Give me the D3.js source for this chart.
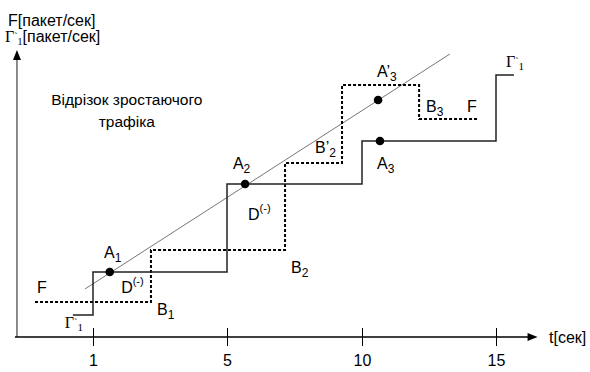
<!DOCTYPE html>
<html><head><meta charset="utf-8">
<script src="https://cdn.jsdelivr.net/npm/d3@7/dist/d3.min.js"></script>
<style>body{margin:0;background:#fff}svg{display:block}text{font-family:Arial,"Liberation Sans",sans-serif}</style>
</head><body><svg id="c" width="590" height="372"></svg>
<script>
// ---- data (time t [сек], rate v [пакет/сек], schematic units) ----
const tickTimes = [1, 5, 10, 15];
const tickLabels = ["1", "5", "10", "15"];
// Γ`1 : solid step curve (start of each level)
const gammaT = [0.4, 1, 5, 10, 15, 15.67];
const gammaV = [2.2, 6.5, 15.3, 19.6, 26.2];
// F : dashed step curve
const fT = [-0.73, 2.73, 7.15, 9.26, 12.13, 14.3];
const fV = [3.5, 8.7, 17.4, 25.2, 21.8];
// growing-traffic segment
const trendT = [0.76, 13.28];
const trendV = [4.8, 28.3];
// marked points
const pointNames = ["A1", "A2", "A3", "A'3"];
const pointT = [1.5, 5.67, 10.67, 10.6];
const pointV = [6.5, 15.3, 19.6, 23.7];
// annotations: main, sub/sup, kind, anchor t, anchor v
const labelMain = ["F", "A", "D", "B", "A", "D", "B", "B’", "A", "A’", "B", "F"];
const labelExtra = ["", "1", "(-)", "1", "2", "(-)", "2", "2", "3", "3", "3", ""];
const labelKind = ["", "sub", "sup", "sub", "sub", "sup", "sub", "sub", "sub", "sub", "sub", ""];
const labelT = [-0.67, 1.33, 1.84, 2.91, 5.22, 5.78, 7.37, 8.26, 10.56, 10.56, 12.39, 13.92];
const labelV = [4.4, 7.9, 4.4, 2.2, 16.8, 11.7, 6.4, 18.4, 16.8, 26.0, 22.5, 22.5];
const gammaLabelT = [0.16, 15.37];
const gammaLabelV = [0.9, 27.0];
const noteLines = ["Відрізок зростаючого", "трафіка"];
const noteT = 2.01;
const noteV = [23.2, 21.0];

// ---- scales ----
const x = d3.scaleLinear().domain([1, 5, 10, 15]).range([93, 227, 362, 496]);
const y = d3.scaleLinear().domain([0, 30]).range([337, 37]);
const tOrigin = -1.27, tAxisStart = -1.33, tAxisEnd = 16.55, vTop = 28.7;

const svg = d3.select("#c");

// ---- axes ----
svg.append("line").attr("x1", x(tOrigin)).attr("x2", x(tOrigin))
  .attr("y1", y(0)).attr("y2", y(vTop) + 8)
  .attr("stroke", "#666").attr("stroke-width", 1.5);
svg.append("path")
  .attr("d", `M${x(tOrigin)},${y(vTop)} L${x(tOrigin) - 4},${y(vTop) + 10} L${x(tOrigin) + 4},${y(vTop) + 10} Z`)
  .attr("fill", "#000");
svg.append("line").attr("x1", x(tAxisStart)).attr("x2", x(tAxisEnd) - 8)
  .attr("y1", y(0)).attr("y2", y(0))
  .attr("stroke", "#000").attr("stroke-width", 1.3);
svg.append("path")
  .attr("d", `M${x(tAxisEnd)},${y(0)} L${x(tAxisEnd) - 10},${y(0) - 4} L${x(tAxisEnd) - 10},${y(0) + 4} Z`)
  .attr("fill", "#000");

const ax = d3.axisBottom(x).tickValues(tickTimes)
  .tickFormat((d, i) => tickLabels[i]).tickSize(18).tickPadding(9);
const axG = svg.append("g").attr("transform", `translate(0,${y(0) - 9})`).call(ax);
axG.select(".domain").remove();
axG.selectAll(".tick line").attr("stroke", "#000").attr("stroke-width", 1);
axG.selectAll(".tick text").attr("font-size", 16).attr("fill", "#000")
  .attr("font-family", "Arial, 'Liberation Sans', sans-serif");

// ---- step curves ----
function stepPts(ts, vs) {
  const pts = [];
  vs.forEach((v, i) => { pts.push([ts[i], v]); pts.push([ts[i + 1], v]); });
  return pts;
}
const line = d3.line().x(d => x(d[0])).y(d => y(d[1]));

svg.append("path").attr("d", line([[trendT[0], trendV[0]], [trendT[1], trendV[1]]]))
  .attr("fill", "none").attr("stroke", "#777").attr("stroke-width", 1);

svg.append("path").attr("d", line(stepPts(fT, fV)))
  .attr("fill", "none").attr("stroke", "#000").attr("stroke-width", 2)
  .attr("stroke-dasharray", "3,2");

svg.append("path").attr("d", line(stepPts(gammaT, gammaV)))
  .attr("fill", "none").attr("stroke", "#222").attr("stroke-width", 1.5);

svg.selectAll("circle.pt").data(pointNames).enter().append("circle")
  .attr("cx", (d, i) => x(pointT[i])).attr("cy", (d, i) => y(pointV[i]))
  .attr("r", 4.3).attr("fill", "#000");

// ---- labels ----
const lab = svg.selectAll("text.lab").data(labelMain).enter().append("text")
  .attr("x", (d, i) => x(labelT[i])).attr("y", (d, i) => y(labelV[i]))
  .attr("font-size", 16).attr("fill", "#000");
lab.append("tspan").text(d => d);
lab.append("tspan").text((d, i) => labelExtra[i])
  .attr("font-size", (d, i) => labelKind[i] === "sup" ? 11 : 12)
  .attr("dy", (d, i) => labelKind[i] === "sup" ? -8 : labelKind[i] === "sub" ? 4 : 0);

gammaLabelT.forEach((t, i) => {
  const g = svg.append("text").attr("x", x(t)).attr("y", y(gammaLabelV[i]))
    .attr("fill", "#000").style("font-family", "'Times New Roman','Liberation Serif',serif");
  g.append("tspan").text("Γ").attr("font-size", 16);
  g.append("tspan").text("`").attr("font-size", 10).attr("dy", -2);
  g.append("tspan").text("1").attr("font-size", 11).attr("dy", 5);
});

svg.selectAll("text.note").data(noteLines).enter().append("text")
  .attr("x", x(noteT)).attr("y", (d, i) => y(noteV[i]))
  .attr("text-anchor", "middle").attr("font-size", 15.5).attr("fill", "#000").text(d => d);

// axis titles
svg.append("text").attr("x", 8).attr("y", 26).attr("font-size", 16).text("F[пакет/сек]");
const yt = svg.append("text").attr("x", 5).attr("y", 42).attr("font-size", 16);
yt.append("tspan").text("Γ").style("font-family", "'Times New Roman','Liberation Serif',serif");
yt.append("tspan").text("`").attr("font-size", 10).attr("dy", -2).style("font-family", "'Liberation Serif',serif");
yt.append("tspan").text("1").attr("font-size", 10).attr("dy", 5).style("font-family", "'Liberation Serif',serif");
yt.append("tspan").text("[пакет/сек]").attr("dy", -3);
svg.append("text").attr("x", 549).attr("y", 343).attr("font-size", 16).text("t[сек]");
</script></body></html>
